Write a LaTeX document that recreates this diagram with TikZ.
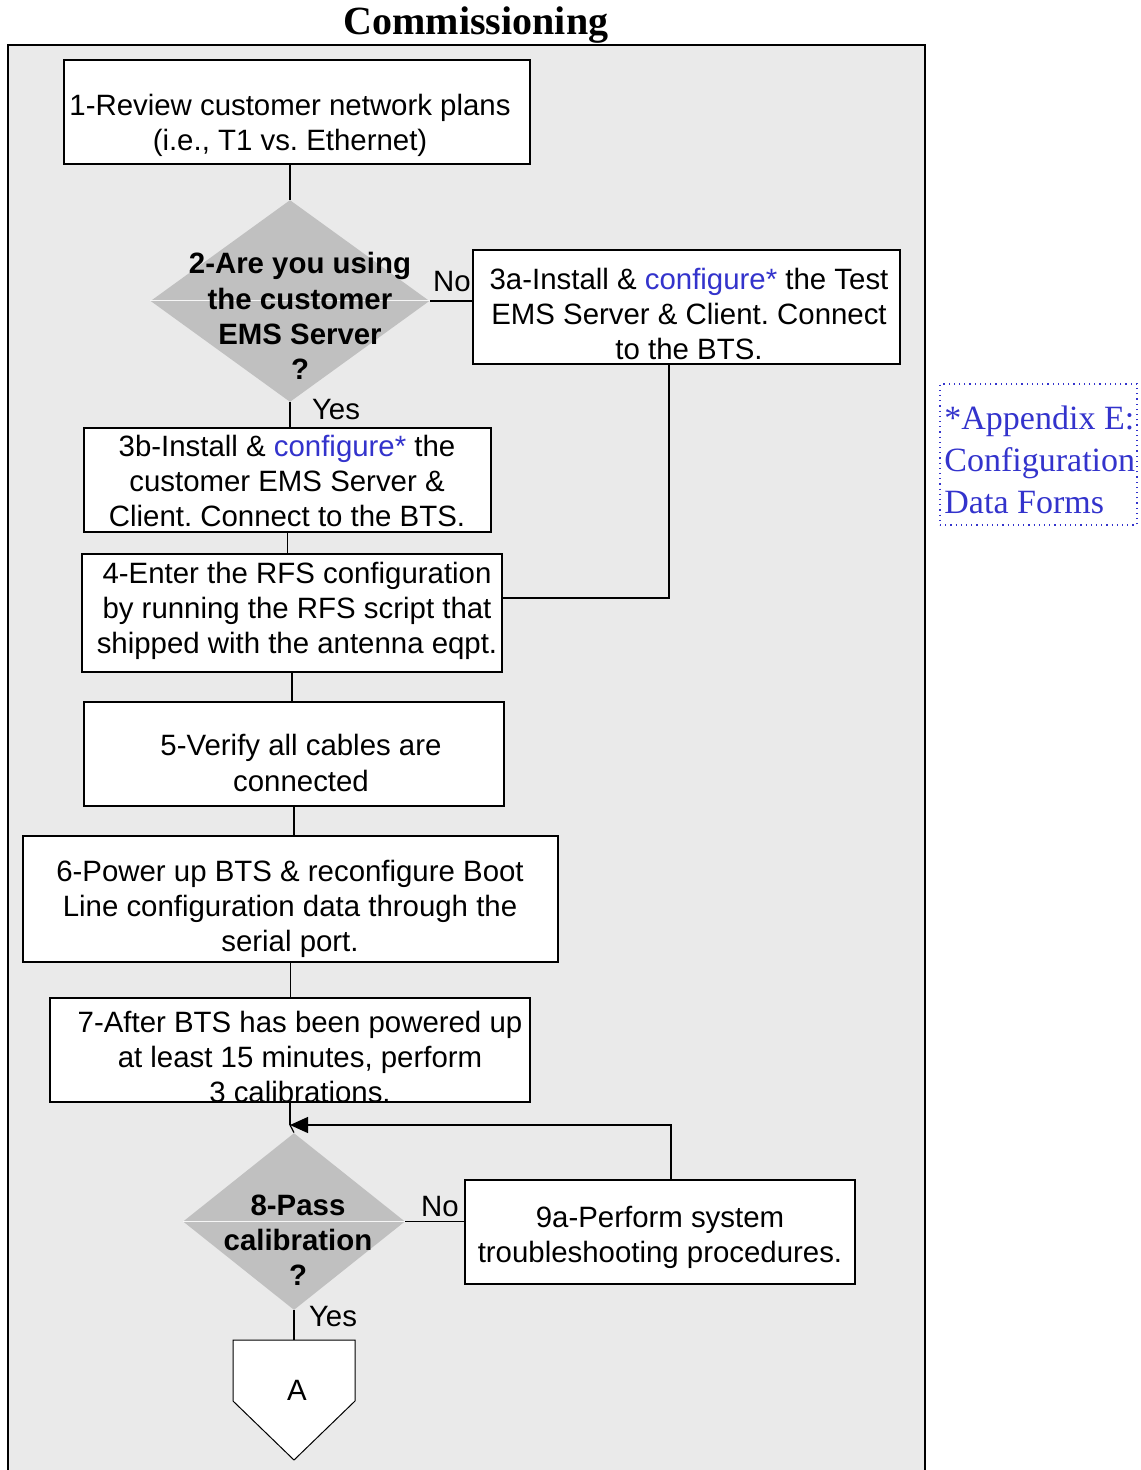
\documentclass[tikz,border=0pt]{standalone}
\usepackage{fontspec}
\setmainfont{Liberation Serif}
\newfontfamily\arialf{Liberation Sans}
\usetikzlibrary{shapes.geometric,arrows.meta,calc}
\definecolor{bgc}{HTML}{EAEAEA}
\definecolor{diac}{HTML}{C0C0C0}
\definecolor{lnk}{HTML}{3333CC}
\newcommand{\cfg}{\textcolor{lnk}{configure*}}
\frenchspacing
\begin{document}
\frenchspacing
\begin{tikzpicture}[x=0.5pt,y=-0.5pt,
  box/.style={draw=black,line width=0.7pt,fill=white,inner sep=0pt,rectangle},
  txt/.style={font=\arialf\frenchspacing\fontsize{14.7}{17.6}\selectfont,align=center,inner sep=0pt},
  btxt/.style={font=\arialf\bfseries\fontsize{14.7}{17.6}\selectfont,align=center,inner sep=0pt},
  dia/.style={diamond,fill=diac,draw=none,inner sep=0pt},
  conn/.style={draw=black,line width=0.6pt},
  lbl/.style={font=\arialf\fontsize{14.7}{17.6}\selectfont,inner sep=0pt}]
\useasboundingbox (0,0) rectangle (1140,1470);
% frame
\fill[bgc] (8,45) rectangle (925,1470);
\draw[line width=1pt] (8,1470) -- (8,45) -- (925,45) -- (925,1470);
\node[font=\bfseries\fontsize{20}{24}\selectfont,inner sep=0pt] (title) at (476,25) {Commissioning};

% boxes
\node[box,minimum width=233pt,minimum height=52pt] (b1) at (297,112) {};
\node[dia,minimum width=139.5pt,minimum height=101pt] (d2) at (290,301) {};
\draw[white!85!diac,line width=0.5pt] (d2.west) -- (d2.east);
\node[box,minimum width=213.5pt,minimum height=57pt] (b3a) at (686.5,307) {};
\node[box,minimum width=203.5pt,minimum height=52pt] (b3b) at (287.5,480) {};
\node[box,minimum width=210pt,minimum height=59pt] (b4) at (292,613) {};
\node[box,minimum width=210pt,minimum height=52pt] (b5) at (294,754) {};
\node[box,minimum width=267.5pt,minimum height=63pt] (b6) at (290.5,899) {};
\node[box,minimum width=240pt,minimum height=52pt] (b7) at (290,1050) {};
\node[dia,minimum width=111pt,minimum height=88.5pt] (d8) at (294,1221.5) {};
\draw[white!85!diac,line width=0.5pt] (d8.west) -- (d8.east);
\node[box,minimum width=195pt,minimum height=52pt] (b9) at (660,1232) {};

% off-page connector
\coordinate (Atop) at (294,1340);
\draw[fill=white,line width=0.5pt] (233,1340) -- (355,1340) -- (355,1401) -- (294,1460) -- (233,1401) -- cycle;
\node[lbl] (A) at (297,1390) {A};

% connectors
\coordinate (m8) at (290,1125);
\draw[conn] (d2.north |- b1.south) -- (d2.north);
\draw[conn] (d2.east) -- (d2.east -| b3a.west);
\draw[conn] (d2.south) -- (d2.south |- b3b.north);
\draw[conn] (b3b.south) -- (b3b.south |- b4.north);
\draw[conn] ($(b3a.south)+(-17.5,0)$) |- ($(b4.east)+(0,-15)$);
\draw[conn] (b4.south) -- (b4.south |- b5.north);
\draw[conn] (b5.south) -- (b5.south |- b6.north);
\draw[conn] (b6.south) -- (b6.south |- b7.north);
\draw[conn] (b7.south) -- (m8);
\draw[conn] (m8) -- (d8.north);
\draw[conn,-{Triangle[length=9pt,width=8pt]}] ($(b9.north)+(11,0)$) |- (m8);
\draw[conn] (d8.east) -- (d8.east -| b9.west);
\draw[conn] (d8.south) -- (Atop);

% texts
\node[txt] (t1) at (290,125) {1-Review customer network plans\\(i.e., T1 vs. Ethernet)};
\node[btxt] (t2) at (300,316) {2-Are you using\\the customer\\EMS Server\\?};
\node[txt] (t3a) at (689,314) {3a-Install \& \cfg{} the Test\\EMS Server \& Client. Connect\\to the BTS.};
\node[txt] (t3b) at (287,481) {3b-Install \& \cfg{} the\\customer EMS Server \&\\Client. Connect to the BTS.};
\node[txt] (t4) at (297,611) {4-Enter the RFS configuration\\by running the RFS script that\\shipped with the antenna eqpt.};
\node[txt] (t5) at (301,763) {5-Verify all cables are\\connected};
\node[txt] (t6) at (290,909) {6-Power up BTS \& reconfigure Boot\\Line configuration data through the\\serial port.};
\node[txt] (t7) at (300,1057) {7-After BTS has been powered up\\at least 15 minutes, perform\\3 calibrations.};
\node[btxt] (t8) at (298,1240) {8-Pass\\calibration\\?};
\node[txt] (t9) at (660,1237) {9a-Perform system\\troubleshooting procedures.};

% labels
\node[lbl] (no1) at (452,282) {No};
\node[lbl] (yes1) at (336,410) {Yes};
\node[lbl] (no2) at (440,1207) {No};
\node[lbl] (yes2) at (333,1317) {Yes};

% appendix note
\node[draw=lnk,dotted,line width=0.6pt,inner sep=0pt,minimum width=98.5pt,minimum height=70.5pt] (apx) at (1038.5,454.5) {};
\node[anchor=west,align=left,inner sep=0pt,text=lnk,font=\fontsize{17}{21}\selectfont] (apxt) at (944,460) {*Appendix E:\\Configuration\\Data Forms};
\end{tikzpicture}
\end{document}
